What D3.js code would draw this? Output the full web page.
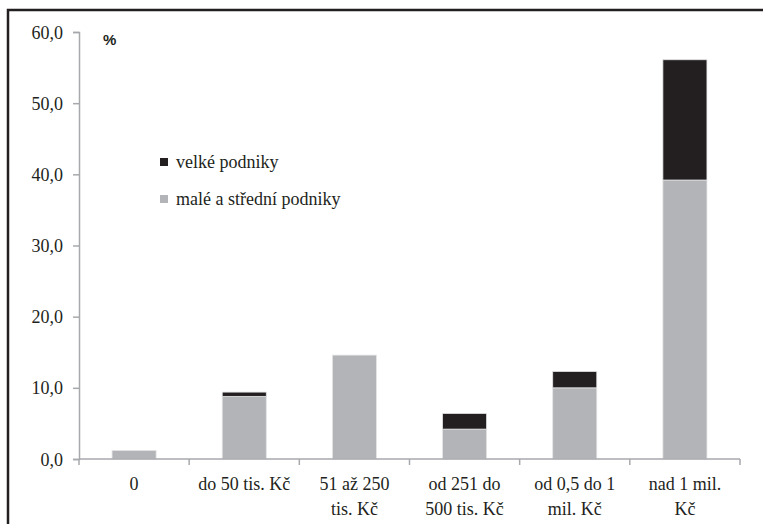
<!DOCTYPE html>
<html>
<head>
<meta charset="utf-8">
<script src="https://cdn.jsdelivr.net/npm/d3@7"></script>
<style>
  html, body { margin: 0; padding: 0; background: #fff; }
  svg { display: block; }
</style>
</head>
<body>
<svg id="chart" width="763" height="524" font-family="Tinos, 'Liberation Serif', 'Times New Roman', serif"></svg>
<script>
// Categories (amount ranges) and the two stacked series, in percent
const categories = ["0", "do 50 tis. Kč", "51 až 250 tis. Kč", "od 251 do 500 tis. Kč", "od 0,5 do 1 mil. Kč", "nad 1 mil. Kč"];
const categoryLines = [["0"], ["do 50 tis. Kč"], ["51 až 250", "tis. Kč"], ["od 251 do", "500 tis. Kč"], ["od 0,5 do 1", "mil. Kč"], ["nad 1 mil.", "Kč"]];
const smallMedium = [1.2, 8.8, 14.6, 4.2, 10.0, 39.2];
const large = [0.0, 0.6, 0.0, 2.2, 2.3, 16.9];
const seriesNames = ["malé a střední podniky", "velké podniky"];
const yTicks = [0, 10, 20, 30, 40, 50, 60];

const svg = d3.select("#chart");
const colors = { "malé a střední podniky": "#b3b4b7", "velké podniky": "#231f20" };
const textFont = "Tinos, \"Liberation Serif\", \"Times New Roman\", serif";

// Serif label helper
function serifText(sel) {
  return sel.each(function() {
    this.setAttribute("style", "font-family: " + textFont + "; font-size: 18px;");
  }).attr("fill", "#231f20");
}

// Frame around the chart (runs past the right and bottom edges)
svg.append("rect")
  .attr("x", 8).attr("y", 10)
  .attr("width", 780).attr("height", 540)
  .attr("fill", "none").attr("stroke", "#231f20").attr("stroke-width", 2.5);

const plotLeft = 79, plotRight = 740, plotTop = 32, plotBottom = 459;

const x = d3.scaleBand().domain(categories).range([plotLeft, plotRight]).paddingInner(0.6).paddingOuter(0.3);
const xTick = d3.scaleBand().domain(categories).range([plotLeft, plotRight]);
const y = d3.scaleLinear().domain([0, 60]).range([plotBottom, plotTop]);

const rows = categories.map((c, i) => ({ cat: c, "malé a střední podniky": smallMedium[i], "velké podniky": large[i] }));
const stacked = d3.stack().keys(seriesNames)(rows);

// Bars
svg.append("g").selectAll("g").data(stacked).join("g")
  .attr("fill", d => colors[d.key])
  .selectAll("rect").data(d => d.filter(p => p[1] - p[0] > 0)).join("rect")
  .attr("x", d => x(d.data.cat))
  .attr("width", x.bandwidth())
  .attr("y", d => y(d[1]))
  .attr("height", d => y(d[0]) - y(d[1]))
  .attr("stroke", "#e4e4e4").attr("stroke-width", 0.8);

// Y axis
const yAxis = svg.append("g").attr("transform", `translate(${plotLeft},0)`)
  .call(d3.axisLeft(y).tickValues(yTicks).tickSize(6).tickPadding(10)
    .tickFormat(d => d3.format(".1f")(d).replace(".", ",")));
yAxis.attr("font-family", textFont).attr("font-size", 18);
yAxis.select(".domain").attr("stroke", "#a7a9ac").attr("stroke-width", 1.5);
yAxis.selectAll(".tick line").attr("stroke", "#a7a9ac").attr("stroke-width", 1.5);
serifText(yAxis.selectAll(".tick text")).attr("dy", "0.34em");

// X axis with ticks between categories
const xg = svg.append("g").attr("transform", `translate(0,${plotBottom})`);
xg.append("line").attr("x1", plotLeft).attr("x2", plotRight).attr("stroke", "#a7a9ac").attr("stroke-width", 1.5);
const bounds = categories.map(c => xTick(c)).concat([plotRight]);
xg.selectAll("line.tk").data(bounds).join("line").attr("class", "tk")
  .attr("x1", d => d).attr("x2", d => d).attr("y1", 0).attr("y2", 6)
  .attr("stroke", "#a7a9ac").attr("stroke-width", 1.5);
serifText(xg.selectAll("text").data(categories).join("text"))
  .attr("x", d => xTick(d) + xTick.bandwidth() / 2)
  .attr("y", 31)
  .attr("text-anchor", "middle")
  .each(function(d, i) {
    d3.select(this).selectAll("tspan").data(categoryLines[i]).join("tspan")
      .attr("x", xTick(d) + xTick.bandwidth() / 2)
      .attr("dy", (t, j) => j === 0 ? 0 : 25)
      .text(t => t);
  });

// Unit label
svg.append("text").attr("x", 103).attr("y", 45)
  .attr("style", "font-family: 'Liberation Sans', Arial, sans-serif; font-weight: bold; font-size: 15px;")
  .attr("fill", "#231f20").text("%");

// Legend
const legendItems = [seriesNames[1], seriesNames[0]];
const lg = svg.append("g").selectAll("g").data(legendItems).join("g")
  .attr("transform", (d, i) => `translate(160,${168 + i * 37})`);
lg.append("rect").attr("x", 0).attr("y", -10).attr("width", 8).attr("height", 8)
  .attr("fill", d => colors[d]);
serifText(lg.append("text")).attr("x", 16).attr("y", 0).text(d => d);
</script>
</body>
</html>
